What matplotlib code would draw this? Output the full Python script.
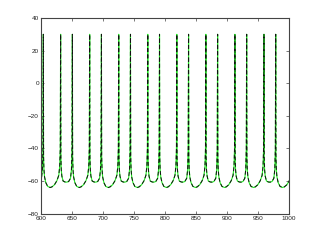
import matplotlib
matplotlib.use('Agg')
import matplotlib.pyplot as plt
import numpy as np

# spike times (ms); 584 and 1007 sit just outside the view
spike_times = [584, 603, 631, 650, 678, 697, 725, 744, 772, 791, 819, 838,
               866, 885, 913, 932, 960, 979, 1007]
spike_peak = 30

# trough shapes: (ms after spike, mV) and (ms before next spike, mV)
long_post_t = [0.4, 1, 2, 4, 7, 11]
long_post_v = [-45, -53, -57.5, -61, -63.3, -64]
long_pre_t = [-14, -10, -6, -3, -1.5, -0.6]
long_pre_v = [-63.6, -62.3, -59.8, -56.5, -51, -40]

short_post_t = [0.4, 1, 2, 4, 7]
short_post_v = [-45, -53, -57, -60, -60.6]
short_pre_t = [-9, -6, -3, -1.5, -0.6]
short_pre_v = [-60.7, -60.3, -58.3, -53, -40]


def build_trace(spikes):
    t, v = [], []
    for a, b in zip(spikes[:-1], spikes[1:]):
        t.append(a)
        v.append(spike_peak)
        if b - a > 23:
            pt, pv, qt, qv = long_post_t, long_post_v, long_pre_t, long_pre_v
        else:
            pt, pv, qt, qv = short_post_t, short_post_v, short_pre_t, short_pre_v
        t += [a + x for x in pt] + [b + x for x in qt]
        v += pv + qv
    t.append(spikes[-1])
    v.append(spike_peak)
    return np.array(t), np.array(v)


plt.rcParams['font.family'] = ['Liberation Sans', 'DejaVu Sans']

fig = plt.figure(figsize=(3.19, 2.40), dpi=100)
ax = fig.add_axes([0.13, 0.11, 0.775, 0.815])

t, v = build_trace(spike_times)
ax.plot(t, v, color='#22ee22', lw=0.8)
ax.plot(t, v, color='#111111', lw=0.7, ls='--', dashes=(4, 2.5))

ax.set_xlim(600, 1000)
ax.set_ylim(-80, 40)
ax.set_xticks(np.arange(600, 1001, 50))
ax.set_yticks(np.arange(-80, 41, 20))
ax.set_yticklabels([str(y).replace('-', '\u2212') for y in range(-80, 41, 20)])
ax.tick_params(direction='in', length=2, width=0.5, labelsize=4.6, pad=1.8,
               top=True, right=True, color='#444444', labelcolor='#222222')
for s in ax.spines.values():
    s.set_linewidth(0.8)
    s.set_color('#444444')

fig.savefig('out.png', dpi=100)
